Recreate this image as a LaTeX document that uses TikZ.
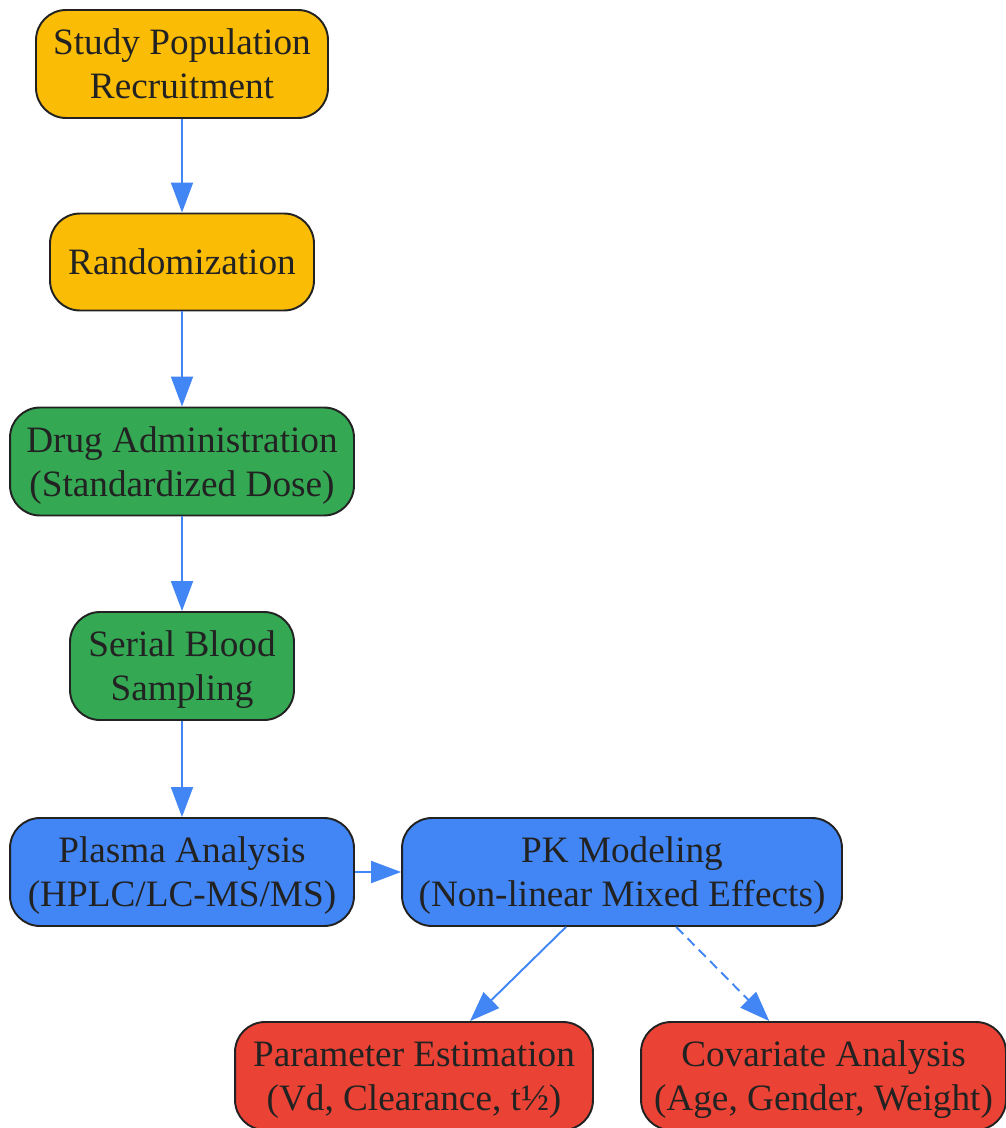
\documentclass[tikz,border=0pt]{standalone}
\usepackage{fontspec}
\setmainfont{Liberation Serif}
\usepackage{xcolor}
\usetikzlibrary{shapes, arrows.meta, positioning}

\definecolor{gyellow}{HTML}{FBBC05}
\definecolor{ggreen}{HTML}{34A853}
\definecolor{gblue}{HTML}{4285F4}
\definecolor{gred}{HTML}{EA4335}
\definecolor{edgegray}{HTML}{222222}

\tikzset{
    stage/.style={draw=edgegray, line width=1.1pt, rounded corners=0.6cm, align=center,
        text=edgegray, font=\fontsize{21.2pt}{25pt}\selectfont, minimum height=2.16cm,
        text depth=-0.18cm},
    flow/.style={-{Triangle[length=0.6cm, width=0.44cm]}, gblue, line width=1.1pt}
}

\begin{document}
\begin{tikzpicture}[x=0.02cm, y=-0.02cm]
    \useasboundingbox (0,0) rectangle (1005,1128);

    % Rekrutierung und Randomisierung
    \node[stage, fill=gyellow, minimum width=5.84cm] (recruit) at (182,64) {Study Population\\Recruitment};
    \node[stage, fill=gyellow, minimum width=5.28cm, minimum height=1.94cm] (random) at (182,262) {Randomization};

    % Dosierung und Probenahme
    \node[stage, fill=ggreen, minimum width=6.88cm] (dose) at (182,461.5) {Drug Administration\\(Standardized Dose)};
    \node[stage, fill=ggreen, minimum width=4.48cm] (sampling) at (182,666) {Serial Blood\\Sampling};

    % Analytik und Modellierung
    \node[stage, fill=gblue, minimum width=6.88cm] (plasma) at (182,872) {Plasma Analysis\\(HPLC/LC-MS/MS)};
    \node[stage, fill=gblue, minimum width=8.8cm] (pkmodel) at (622,872) {PK Modeling\\(Non-linear Mixed Effects)};

    % Ergebnisse
    \node[stage, fill=gred, minimum width=7.16cm] (params) at (414,1076) {Parameter Estimation\\(Vd, Clearance, t½)};
    \node[stage, fill=gred, minimum width=7.3cm] (covar) at (823.5,1076) {Covariate Analysis\\(Age, Gender, Weight)};

    % Pfeile
    \draw[flow] (recruit) -- (random);
    \draw[flow] (random) -- (dose);
    \draw[flow] (dose) -- (sampling);
    \draw[flow] (sampling) -- (plasma);
    \draw[flow] (plasma) -- (pkmodel);
    \draw[flow] (pkmodel) -- (params);
    \draw[flow, dash pattern=on 0.2cm off 0.12cm] (pkmodel) -- (covar);
\end{tikzpicture}
\end{document}
